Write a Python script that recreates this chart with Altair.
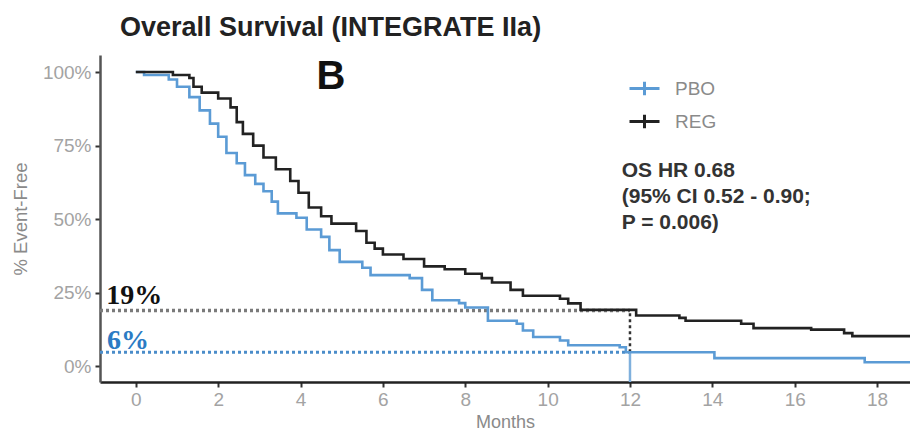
import altair as alt
import pandas as pd

# ---- data ----
reg_t = [0, 0.9, 1.3, 1.4, 1.6, 2.0, 2.3, 2.45, 2.6, 2.85, 3.1, 3.4, 3.75, 3.95, 4.2, 4.5, 4.75,
         5.35, 5.6, 5.8, 6.0, 6.5, 7.0, 7.5, 8.0, 8.4, 8.65, 9.1, 9.4, 10.3, 10.5, 10.8, 12.15,
         13.2, 13.35, 14.7, 15.0, 16.4, 17.2, 17.4, 18.8]
reg_s = [100, 99, 98, 95, 93, 91, 88, 83, 79, 75, 71, 67, 63, 59, 54, 51, 48.5,
         46, 42, 40, 38, 36.5, 34, 33, 31.5, 30, 28.5, 26, 24, 23, 21.4, 19.2, 17.3,
         16.5, 15.5, 14.5, 13, 12.5, 11.3, 10.3, 10.3]

pbo_t = [0, 0.2, 0.8, 1.0, 1.3, 1.55, 1.8, 2.0, 2.2, 2.45, 2.65, 2.9, 3.1, 3.3, 3.45, 3.9, 4.15,
         4.5, 4.7, 4.95, 5.5, 5.7, 6.65, 6.95, 7.2, 7.85, 8.0, 8.55, 9.25, 9.4, 9.65, 10.3, 10.5,
         11.75, 11.9, 14.05, 17.7, 18.8]
pbo_s = [100, 99, 97.5, 95, 91.5, 87, 82.5, 78, 72.5, 69, 65, 62, 59.5, 56, 52, 50.5, 46.5,
         44, 39.5, 35.5, 33.5, 31, 30, 26, 22.5, 21.5, 20, 15.5, 14.5, 12.2, 10, 8.8, 7.2,
         6.5, 4.8, 2.8, 1.4, 1.4]

groups = ["PBO", "REG"]
colors = ["#5B9BD5", "#222222"]

x_ticks = [0, 2, 4, 6, 8, 10, 12, 14, 16, 18]
y_ticks = [0, 25, 50, 75, 100]
x_dom = [-0.87, 18.8]
y_dom = [-5.3, 105.8]

landmark_month = 12
reg_at_landmark = 19
pbo_at_landmark = 4.8

curves = pd.DataFrame(
    [{"group": "PBO", "t": t, "s": s} for t, s in zip(pbo_t, pbo_s)]
    + [{"group": "REG", "t": t, "s": s} for t, s in zip(reg_t, reg_s)]
)

x_scale = alt.Scale(domain=x_dom, nice=False, zero=False)
y_scale = alt.Scale(domain=y_dom, nice=False, zero=False)

FONT = "Liberation Sans"

lines = alt.Chart(curves).mark_line(interpolate="step-after", strokeWidth=2.6, clip=True).encode(
    x=alt.X("t:Q", scale=x_scale,
            axis=alt.Axis(values=x_ticks, title="Months", grid=False, labelFontSize=19,
                          labelColor="#a3a3a3", titleFontSize=18, titleColor="#8a8a8a",
                          titleFontWeight="normal", tickColor="#333333", tickWidth=2, tickSize=5,
                          domainColor="#222222", domainWidth=2.5, labelPadding=3, titlePadding=4,
                          labelFont=FONT, titleFont=FONT)),
    y=alt.Y("s:Q", scale=y_scale,
            axis=alt.Axis(values=y_ticks, title="% Event-Free", grid=False, labelFontSize=19,
                          labelColor="#a3a3a3", labelExpr="datum.value + '%'", titleFontSize=18.5,
                          titleColor="#8a8a8a", titleFontWeight="normal", tickColor="#333333",
                          tickWidth=2, tickSize=5, domainColor="#555555", domainWidth=2.5,
                          labelPadding=4, titlePadding=12, labelFont=FONT, titleFont=FONT)),
    color=alt.Color("group:N", scale=alt.Scale(domain=groups, range=colors),
                    legend=alt.Legend(title=None, orient="none", legendX=528, legendY=17,
                                      symbolType="M-1,0H1M0,-0.45V0.45", symbolSize=900,
                                      symbolStrokeWidth=3, labelFontSize=19, labelColor="#8a8a8a",
                                      labelFont=FONT, labelOffset=14, rowPadding=3)),
    detail="group:N",
)

# landmark reference lines
h_df = pd.DataFrame({
    "x": [x_dom[0], x_dom[0]],
    "x2": [landmark_month, landmark_month],
    "y": [reg_at_landmark, pbo_at_landmark],
    "col": ["#7a7a7a", "#4a8cc9"],
    "w": [3.5, 3],
})
hrules = alt.Chart(h_df).mark_rule(strokeDash=[3, 3], clip=True).encode(
    x="x:Q", x2="x2:Q", y="y:Q",
    color=alt.Color("col:N", scale=None),
    strokeWidth=alt.StrokeWidth("w:Q", scale=None),
)

v_df = pd.DataFrame({
    "x": [landmark_month, landmark_month],
    "y": [pbo_at_landmark, y_dom[0]],
    "y2": [reg_at_landmark, pbo_at_landmark],
    "col": ["#333333", "#7fb0dd"],
})
vdot = alt.Chart(v_df.iloc[[0]]).mark_rule(strokeDash=[3, 3], strokeWidth=2.5, clip=True).encode(
    x="x:Q", y="y:Q", y2="y2:Q", color=alt.Color("col:N", scale=None))
vsol = alt.Chart(v_df.iloc[[1]]).mark_rule(strokeWidth=2.5, clip=True).encode(
    x="x:Q", y="y:Q", y2="y2:Q", color=alt.Color("col:N", scale=None))

# text annotations (positions in data units)
pct_df = pd.DataFrame({
    "x": [-0.72, -0.70],
    "y": [21.2, 5.9],
    "label": ["19%", "6%"],
    "col": ["#111111", "#2b7bc4"],
})
pct_text = alt.Chart(pct_df).mark_text(font="Liberation Serif", fontWeight="bold", fontSize=28,
                                       align="left", baseline="alphabetic").encode(
    x="x:Q", y="y:Q", text="label:N", color=alt.Color("col:N", scale=None))

panel_df = pd.DataFrame({"x": [4.74], "y": [98.3], "label": ["B"]})
panel_text = alt.Chart(panel_df).mark_text(font=FONT, fontWeight="bold", fontSize=40,
                                           align="center", baseline="middle", color="#111111").encode(
    x="x:Q", y="y:Q", text="label:N")

hr_df = pd.DataFrame({"x": [11.8], "y": [70.2],
                      "label": [["OS HR 0.68", "(95% CI 0.52 - 0.90;", "P = 0.006)"]]})
hr_text = alt.Chart(hr_df).mark_text(font=FONT, fontWeight="bold", fontSize=21, lineHeight=26,
                                     align="left", baseline="top", color="#333333").encode(
    x="x:Q", y="y:Q", text="label")

chart = alt.layer(hrules, vdot, vsol, lines, pct_text, panel_text, hr_text).properties(
    width=810, height=327,
    padding={"left": 100, "top": 55, "right": 0, "bottom": 49},
    autosize=alt.AutoSizeParams(type="none"),
    title=alt.TitleParams("Overall Survival (INTEGRATE IIa)", anchor="start", frame="group",
                          dx=20, offset=13, fontSize=27, fontWeight="bold", color="#222222",
                          font=FONT),
).configure(background="white").configure_view(stroke=None)

chart.save("out.html", embed_options={"renderer": "svg", "actions": False})
